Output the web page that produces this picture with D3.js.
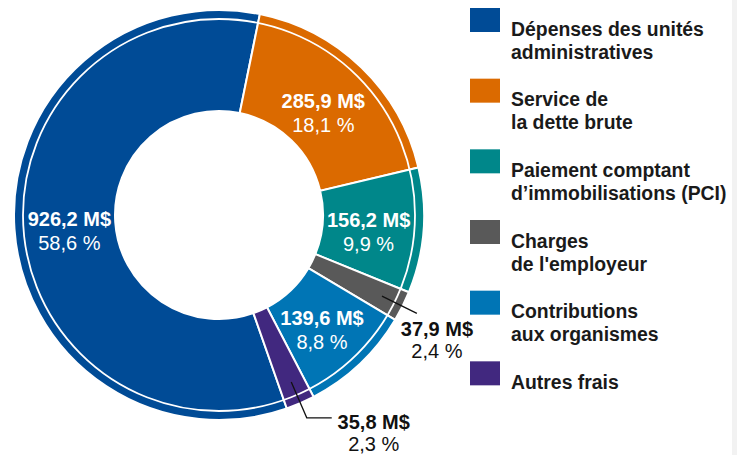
<!DOCTYPE html>
<html>
<head>
<meta charset="utf-8">
<script src="https://cdn.jsdelivr.net/npm/d3@7"></script>
<style>
  body { margin: 0; background: #fff; }
  svg { display: block; font-family: "Liberation Sans", Arial, sans-serif; }
</style>
</head>
<body>
<svg id="chart" width="737" height="455"></svg>
<script>
// categories, legend lines, values (M$) and shares (%)
const categories = ["depenses", "dette", "pci", "charges", "contributions", "autres"];
const legendLines = [
  ["Dépenses des unités", "administratives"],
  ["Service de", "la dette brute"],
  ["Paiement comptant", "d’immobilisations (PCI)"],
  ["Charges", "de l'employeur"],
  ["Contributions", "aux organismes"],
  ["Autres frais"]
];
const values = [926.2, 285.9, 156.2, 37.9, 139.6, 35.8];
const shares = [58.6, 18.1, 9.9, 2.4, 8.8, 2.3];
const colors = ["#004b96", "#db6a00", "#00878a", "#595959", "#0075b5", "#41287f"];
// small slices get their label outside with a leader line
const outside = [false, false, false, true, false, true];

const svg = d3.select("#chart");
const cx = 219, cy = 215, R = 205, r0 = 104;

const fmt = v => v.toFixed(1).replace(".", ",");

const data = categories.map((c, i) => ({ cat: c, value: values[i], share: shares[i], i: i }));

// blue slice ends ~11.5 deg past 12 o'clock
const total = d3.sum(values);
const start = (11.5 - values[0] / total * 360) * Math.PI / 180;
const pie = d3.pie().sort(null).value(d => d.value)
  .startAngle(start).endAngle(start + 2 * Math.PI);
const arcs = pie(data);

const arc = d3.arc().innerRadius(r0).outerRadius(R);
const labelArc = d3.arc().innerRadius(150).outerRadius(150);

const g = svg.append("g").attr("transform", `translate(${cx},${cy})`);

g.selectAll("path.slice")
  .data(arcs)
  .enter()
  .append("path")
  .attr("class", "slice")
  .attr("d", arc)
  .attr("fill", d => colors[d.data.i])
  .attr("stroke", "#fff")
  .attr("stroke-width", 2);

// thin white ring near the outer edge
g.append("circle")
  .attr("r", 196)
  .attr("fill", "none")
  .attr("stroke", "#fff")
  .attr("stroke-width", 1.8);

// labels inside big slices
const inner = g.selectAll("g.lbl")
  .data(arcs.filter(d => !outside[d.data.i]))
  .enter()
  .append("g")
  .attr("class", "lbl")
  .attr("transform", d => `translate(${labelArc.centroid(d)})`)
  .attr("fill", "#fff")
  .attr("text-anchor", "middle");
inner.append("text")
  .attr("y", 1)
  .attr("font-size", 20)
  .attr("font-weight", "bold")
  .text(d => fmt(d.data.value) + " M$");
inner.append("text")
  .attr("y", 25)
  .attr("font-size", 20)
  .text(d => fmt(d.data.share) + " %");

// outside labels for small slices
const lineStart = d3.arc().innerRadius(182).outerRadius(182);
const lineEnd = d3.arc().innerRadius(221).outerRadius(221);
arcs.filter(d => outside[d.data.i]).forEach(d => {
  const p0 = lineStart.centroid(d);
  const p1 = lineEnd.centroid(d);
  const pts = [p0, p1];
  let tx, ty;
  if (d.data.cat === "autres") {
    // bent leader with a short horizontal tail
    pts.push([p1[0] + 25, p1[1]]);
    tx = p1[0] + 67; ty = p1[1] + 11;
  } else {
    tx = p1[0] + 20; ty = p1[1] + 23;
  }
  g.append("path")
    .attr("d", d3.line()(pts))
    .attr("fill", "none")
    .attr("stroke", "#111")
    .attr("stroke-width", 1.3);
  const t = g.append("g").attr("transform", `translate(${tx},${ty})`)
    .attr("fill", "#111").attr("text-anchor", "middle");
  t.append("text").attr("font-size", 20).attr("font-weight", "bold")
    .text(fmt(d.data.value) + " M$");
  t.append("text").attr("y", 22).attr("font-size", 20)
    .text(fmt(d.data.share) + " %");
});

// legend
const y = d3.scaleBand().domain(categories).range([8, 432]).paddingInner(0);
const leg = svg.append("g").selectAll("g")
  .data(categories)
  .enter()
  .append("g")
  .attr("transform", d => `translate(470,${y(d)})`);
leg.append("rect")
  .attr("width", 30)
  .attr("height", 24)
  .attr("fill", (d, i) => colors[i]);
leg.each(function (d, i) {
  const t = d3.select(this).append("text")
    .attr("x", 41)
    .attr("y", 27.5)
    .attr("font-size", 19.4)
    .attr("font-weight", "bold")
    .attr("fill", "#1a1a1a");
  legendLines[i].forEach((line, k) => {
    t.append("tspan").attr("x", 41).attr("dy", k ? 23 : 0).text(line);
  });
});

// faint page edge on the right
svg.append("rect").attr("x", 732).attr("y", 0).attr("width", 5).attr("height", 455)
  .attr("fill", "#f2f2f2");
</script>
</body>
</html>
